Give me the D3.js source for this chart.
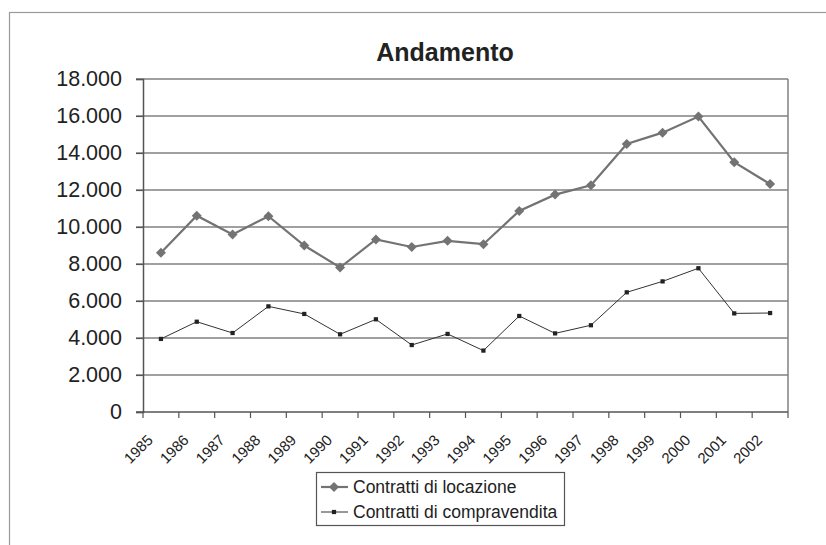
<!DOCTYPE html>
<html>
<head>
<meta charset="utf-8">
<script src="https://cdn.jsdelivr.net/npm/d3@7"></script>
<style>
  body { margin: 0; background: #fff; }
  svg { font-family: "Liberation Sans", Arial, sans-serif; }
</style>
</head>
<body>
<div class="chart"></div>
<script>
var years = ["1985","1986","1987","1988","1989","1990","1991","1992","1993","1994","1995","1996","1997","1998","1999","2000","2001","2002"];
var locazione = [8610, 10610, 9600, 10580, 9000, 7810, 9330, 8920, 9250, 9070, 10870, 11750, 12260, 14490, 15100, 15970, 13500, 12320];
var compravendita = [3950, 4880, 4270, 5710, 5300, 4200, 5010, 3620, 4220, 3320, 5190, 4250, 4690, 6470, 7060, 7770, 5330, 5350];
var yTicks = [0, 2000, 4000, 6000, 8000, 10000, 12000, 14000, 16000, 18000];
var seriesNames = ["Contratti di locazione", "Contratti di compravendita"];

var width = 826,
    height = 545;

var margin = {left: 143, right: 38, top: 79, bottom: 133};

var svg = d3.select(".chart").append("svg")
    .attr("width", width)
    .attr("height", height);

// outer chart frame
svg.append("rect")
    .attr("x", 9.5).attr("y", 12.5)
    .attr("width", 840).attr("height", 560)
    .attr("fill", "none")
    .attr("stroke", "#9a9a9a")
    .attr("stroke-width", 1.2);

var x = d3.scaleBand()
    .domain(years)
    .range([margin.left, width - margin.right]);

var y = d3.scaleLinear()
    .domain([0, 18000])
    .range([height - margin.bottom, margin.top]);

var fmt = function(d) { return d3.format(",")(d).replace(/,/g, "."); };

// gridlines
svg.append("g")
    .selectAll("line")
    .data(yTicks.filter(function(d) { return d > 0; }))
    .enter().append("line")
    .attr("x1", margin.left - 7)
    .attr("x2", width - margin.right)
    .attr("y1", function(d) { return y(d); })
    .attr("y2", function(d) { return y(d); })
    .attr("stroke", "#808080")
    .attr("stroke-width", 1.5);

// right border of plot area
svg.append("line")
    .attr("x1", width - margin.right).attr("x2", width - margin.right)
    .attr("y1", margin.top).attr("y2", height - margin.bottom)
    .attr("stroke", "#808080")
    .attr("stroke-width", 1.5);

// y axis
var yAxis = svg.append("g")
    .attr("transform", "translate(" + margin.left + ",0)")
    .call(d3.axisLeft(y).tickValues(yTicks).tickFormat(fmt).tickSize(7).tickPadding(14));
yAxis.select(".domain").attr("stroke", "#555").attr("stroke-width", 1.5);
yAxis.selectAll(".tick line").attr("stroke", "#555").attr("stroke-width", 1.2);
yAxis.selectAll("text")
    .attr("font-size", 21.5)
    .attr("fill", "#222")
    .attr("font-family", "Liberation Sans, Arial, sans-serif");

// x axis line and ticks at band edges
var xg = svg.append("g");
xg.append("line")
    .attr("x1", margin.left - 7).attr("x2", width - margin.right)
    .attr("y1", y(0)).attr("y2", y(0))
    .attr("stroke", "#555").attr("stroke-width", 1.5);
var edges = years.map(function(d) { return x(d); }).concat([x(years[years.length - 1]) + x.bandwidth()]);
xg.selectAll(".xt")
    .data(edges)
    .enter().append("line")
    .attr("class", "xt")
    .attr("x1", function(d) { return d; })
    .attr("x2", function(d) { return d; })
    .attr("y1", y(0))
    .attr("y2", y(0) + 6)
    .attr("stroke", "#555")
    .attr("stroke-width", 1.2);
xg.selectAll("text")
    .data(years)
    .enter().append("text")
    .attr("transform", function(d) {
        return "translate(" + (x(d) + x.bandwidth() / 2 - 7) + "," + (y(0) + 29) + ") rotate(-45)";
    })
    .attr("text-anchor", "end")
    .attr("font-size", 15)
    .attr("fill", "#222")
    .text(function(d) { return d; });

// title
svg.append("text")
    .attr("x", 445)
    .attr("y", 61)
    .attr("text-anchor", "middle")
    .attr("font-size", 25)
    .attr("font-weight", "bold")
    .attr("fill", "#222")
    .text("Andamento");

var line = d3.line()
    .x(function(d, i) { return x(years[i]) + x.bandwidth() / 2; })
    .y(function(d) { return y(d); });

// locazione series
svg.append("path")
    .datum(locazione)
    .attr("d", line)
    .attr("fill", "none")
    .attr("stroke", "#737373")
    .attr("stroke-width", 2.2);

var diamond = d3.symbol().type(d3.symbolSquare).size(50);
svg.append("g")
    .selectAll("path")
    .data(locazione)
    .enter().append("path")
    .attr("d", diamond)
    .attr("transform", function(d, i) {
        return "translate(" + (x(years[i]) + x.bandwidth() / 2) + "," + y(d) + ") rotate(45)";
    })
    .attr("fill", "#737373");

// compravendita series
svg.append("path")
    .datum(compravendita)
    .attr("d", line)
    .attr("fill", "none")
    .attr("stroke", "#333")
    .attr("stroke-width", 1);

var square = d3.symbol().type(d3.symbolSquare).size(18);
svg.append("g")
    .selectAll("path")
    .data(compravendita)
    .enter().append("path")
    .attr("d", square)
    .attr("transform", function(d, i) {
        return "translate(" + (x(years[i]) + x.bandwidth() / 2) + "," + y(d) + ")";
    })
    .attr("fill", "#222");

// legend
var legend = svg.append("g").attr("transform", "translate(316,472)");
legend.append("rect")
    .attr("x", 0.5).attr("y", 0.5)
    .attr("width", 248).attr("height", 53)
    .attr("fill", "#fff")
    .attr("stroke", "#555")
    .attr("stroke-width", 1.2);

var rows = legend.selectAll(".row")
    .data(seriesNames)
    .enter().append("g")
    .attr("class", "row")
    .attr("transform", function(d, i) { return "translate(0," + (15 + i * 25) + ")"; });

rows.append("line")
    .attr("x1", 5).attr("x2", 32)
    .attr("stroke", function(d, i) { return i === 0 ? "#737373" : "#333"; })
    .attr("stroke-width", function(d, i) { return i === 0 ? 2.2 : 1; });
rows.append("path")
    .attr("d", function(d, i) { return i === 0 ? diamond() : square(); })
    .attr("transform", function(d, i) { return "translate(18,0)" + (i === 0 ? " rotate(45)" : ""); })
    .attr("fill", function(d, i) { return i === 0 ? "#737373" : "#222"; });
rows.append("text")
    .attr("x", 37)
    .attr("y", 6)
    .attr("font-size", 17.5)
    .attr("fill", "#222")
    .text(function(d) { return d; });
</script>
</body>
</html>
